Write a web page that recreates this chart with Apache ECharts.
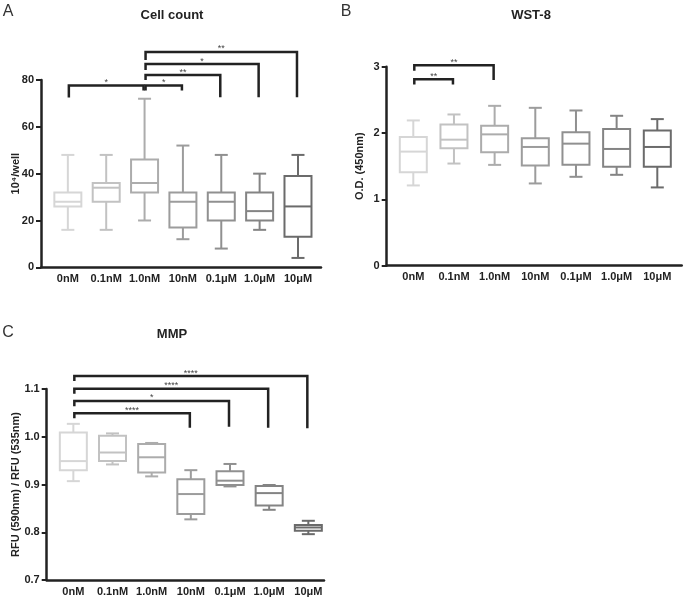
<!DOCTYPE html>
<html>
<head>
<meta charset="utf-8">
<script src="https://cdn.jsdelivr.net/npm/echarts@6/dist/echarts.min.js"></script>
<style>
  html, body { margin: 0; padding: 0; background: #fff; }
  #main { width: 685px; height: 597px; }
</style>
</head>
<body>
<div id="main"></div>
<script>
const doses = ['0nM', '0.1nM', '1.0nM', '10nM', '0.1μM', '1.0μM', '10μM'];

// each row: [min, Q1, median, Q3, max]
const cellCount = [
  [16, 26, 28, 32, 48],
  [16, 28, 34, 36, 48],
  [20, 32, 36, 46, 72],
  [12, 17, 28, 32, 52],
  [8, 20, 28, 32, 48],
  [16, 20, 24, 32, 40],
  [4, 13, 26, 39, 48]
];
const wst8 = [
  [1.21, 1.41, 1.72, 1.94, 2.19],
  [1.54, 1.77, 1.90, 2.13, 2.28],
  [1.52, 1.71, 1.98, 2.11, 2.41],
  [1.24, 1.51, 1.79, 1.92, 2.38],
  [1.34, 1.52, 1.84, 2.01, 2.34],
  [1.37, 1.49, 1.76, 2.06, 2.26],
  [1.18, 1.49, 1.79, 2.04, 2.21]
];
const mmp = [
  [0.907, 0.930, 0.949, 1.009, 1.027],
  [0.942, 0.949, 0.967, 1.002, 1.007],
  [0.917, 0.925, 0.957, 0.985, 0.987],
  [0.827, 0.838, 0.880, 0.911, 0.930],
  [0.896, 0.899, 0.908, 0.928, 0.943],
  [0.847, 0.856, 0.882, 0.897, 0.899],
  [0.796, 0.803, 0.810, 0.815, 0.824]
];

// significance brackets: [from, to, level, left leg end, right leg end]
const cellSig = [
  [0, 2, 77.6, 72.5, 75.5],
  [2, 3, 77.6, 75.5, 75.5],
  [2, 4, 82.1, 80.0, 72.6],
  [2, 5, 86.8, 84.3, 72.6],
  [2, 6, 92.0, 88.5, 72.6]
];
const cellStars = ['*', '*', '**', '*', '**'];
const wstSig = [
  [0, 1, 2.81, 2.73, 2.73],
  [0, 2, 3.02, 2.94, 2.80]
];
const wstStars = ['**', '**'];
const mmpSig = [
  [0, 3, 1.049, 1.039, 1.019],
  [0, 4, 1.075, 1.064, 1.021],
  [0, 5, 1.1006, 1.090, 1.019],
  [0, 6, 1.127, 1.117, 1.018]
];
const mmpStars = ['****', '*', '****', '****'];

const shades = ['#d6d6d6', '#c2c2c2', '#acacac', '#9c9c9c', '#909090', '#848484', '#6b6b6b'];
const ink = '#222';
const FONT = 'Liberation Sans, Arial, sans-serif';

function boxRender(params, api) {
  const i = api.value(0);
  const lo = api.coord([i, api.value(1)]);
  const q1 = api.coord([i, api.value(2)]);
  const md = api.coord([i, api.value(3)]);
  const q3 = api.coord([i, api.value(4)]);
  const hi = api.coord([i, api.value(5)]);
  const cx = md[0], hw = 13.5, cw = 6.5;
  const st = { stroke: shades[i], lineWidth: 2, fill: 'transparent' };
  const ln = (x1, y1, x2, y2) => ({ type: 'line', shape: { x1, y1, x2, y2 }, style: st });
  return {
    type: 'group',
    children: [
      ln(cx, q3[1], cx, hi[1]),
      ln(cx, q1[1], cx, lo[1]),
      ln(cx - cw, hi[1], cx + cw, hi[1]),
      ln(cx - cw, lo[1], cx + cw, lo[1]),
      { type: 'rect', shape: { x: cx - hw, y: q3[1], width: hw * 2, height: q1[1] - q3[1] }, style: st },
      ln(cx - hw, md[1], cx + hw, md[1])
    ]
  };
}

function sigRender(stars) {
  return function (params, api) {
    const a = api.value(0), b = api.value(1);
    const top = api.coord([a, api.value(2)]);
    const end = api.coord([b, api.value(2)]);
    const l = api.coord([a, api.value(3)]);
    const r = api.coord([b, api.value(4)]);
    const x1 = top[0] + 1, x2 = end[0] - 1;
    const st = { stroke: ink, lineWidth: 2.5, fill: 'transparent' };
    return {
      type: 'group',
      children: [
        { type: 'polyline', shape: { points: [[x1, l[1]], [x1, top[1]], [x2, top[1]], [x2, r[1]]] }, style: st },
        { type: 'text', x: (x1 + x2) / 2, y: top[1] - 3,
          style: { text: stars[params.dataIndex], font: '9px ' + FONT, fill: '#444',
                   textAlign: 'center', textVerticalAlign: 'middle' } }
      ]
    };
  };
}

const withIndex = rows => rows.map((r, i) => [i].concat(r));

function xAxisFor(gridIndex, min, max) {
  return {
    type: 'value', gridIndex, min, max,
    axisLine: { onZero: false, lineStyle: { color: ink, width: 2.5 } },
    axisTick: { show: false },
    splitLine: { show: false },
    axisLabel: {
      customValues: [0, 1, 2, 3, 4, 5, 6],
      formatter: v => doses[Math.round(v)],
      color: ink, fontWeight: 'bold', fontSize: 11, fontFamily: FONT, margin: 6
    }
  };
}

function yAxisFor(gridIndex, min, max, interval, name, gap, fmt) {
  return {
    type: 'value', gridIndex, min, max, interval,
    name, nameLocation: 'middle', nameGap: gap, nameMoveOverlap: false,
    nameTextStyle: { color: ink, fontWeight: 'bold', fontSize: 11, fontFamily: FONT },
    axisLine: { show: true, onZero: false, lineStyle: { color: ink, width: 2.5 } },
    axisTick: { show: true, length: 5, lineStyle: { color: ink, width: 2 } },
    splitLine: { show: false },
    axisLabel: { color: ink, fontWeight: 'bold', fontSize: 11, fontFamily: FONT, margin: 7, formatter: fmt }
  };
}

const chart = echarts.init(document.getElementById('main'), null, { renderer: 'canvas' });

const text = (str, x, y, font, fill) => ({
  type: 'text', x, y,
  style: { text: str, font, fill: fill || ink, textAlign: 'center', textVerticalAlign: 'middle' }
});

const option = {
  backgroundColor: '#ffffff',
  animation: false,
  graphic: [
    text('A', 8, 12, '16px ' + FONT, '#333'),
    text('B', 346, 12, '16px ' + FONT, '#333'),
    text('C', 8, 333, '16px ' + FONT, '#333'),
    text('Cell count', 172, 15, 'bold 13px ' + FONT),
    text('WST-8', 531, 15, 'bold 13px ' + FONT),
    text('MMP', 172, 334, 'bold 13px ' + FONT)
  ],
  grid: [
    { left: 41, top: 80, width: 280, height: 187.3 },
    { left: 386.7, top: 66.7, width: 295, height: 199 },
    { left: 46.7, top: 389, width: 277.3, height: 191 }
  ],
  xAxis: [
    xAxisFor(0, -0.70, 6.6),
    xAxisFor(1, -0.654, 6.6),
    xAxisFor(2, -0.68, 6.4)
  ],
  yAxis: [
    yAxisFor(0, 0, 80, 20, '10⁴/well', 20),
    yAxisFor(1, 0, 3, 1, 'O.D. (450nm)', 21.5),
    yAxisFor(2, 0.7, 1.1, 0.1, 'RFU (590nm) / RFU (535nm)', 25.5, v => v.toFixed(1))
  ],
  series: [
    { type: 'custom', xAxisIndex: 0, yAxisIndex: 0, clip: false, renderItem: boxRender,
      encode: { x: 0, y: [1, 2, 3, 4, 5] }, data: withIndex(cellCount) },
    { type: 'custom', xAxisIndex: 1, yAxisIndex: 1, clip: false, renderItem: boxRender,
      encode: { x: 0, y: [1, 2, 3, 4, 5] }, data: withIndex(wst8) },
    { type: 'custom', xAxisIndex: 2, yAxisIndex: 2, clip: false, renderItem: boxRender,
      encode: { x: 0, y: [1, 2, 3, 4, 5] }, data: withIndex(mmp) },
    { type: 'custom', xAxisIndex: 0, yAxisIndex: 0, clip: false, renderItem: sigRender(cellStars),
      encode: { x: [0, 1], y: [2, 3, 4] }, data: cellSig },
    { type: 'custom', xAxisIndex: 1, yAxisIndex: 1, clip: false, renderItem: sigRender(wstStars),
      encode: { x: [0, 1], y: [2, 3, 4] }, data: wstSig },
    { type: 'custom', xAxisIndex: 2, yAxisIndex: 2, clip: false, renderItem: sigRender(mmpStars),
      encode: { x: [0, 1], y: [2, 3, 4] }, data: mmpSig }
  ]
};

chart.setOption(option);
</script>
</body>
</html>
